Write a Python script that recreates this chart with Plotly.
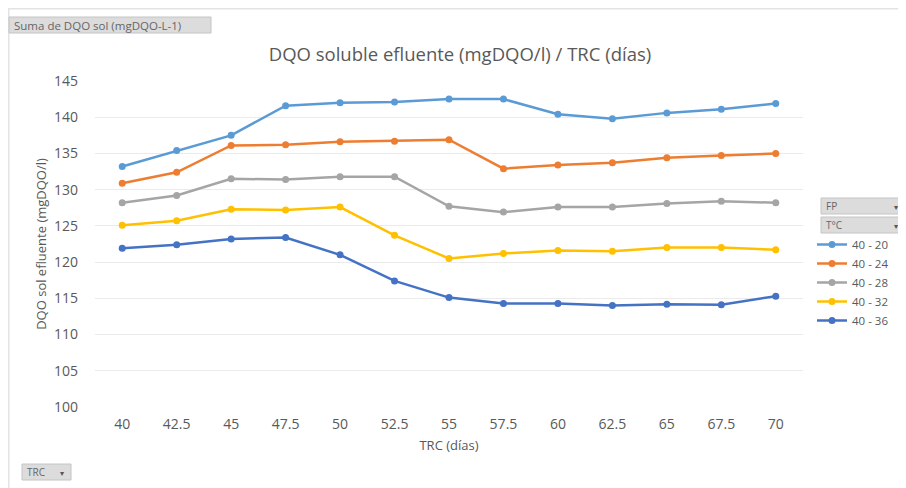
import plotly.graph_objects as go

trc = ["40", "42.5", "45", "47.5", "50", "52.5", "55", "57.5", "60", "62.5", "65", "67.5", "70"]
s_40_20 = [133.2, 135.4, 137.5, 141.6, 142.0, 142.1, 142.5, 142.5, 140.4, 139.8, 140.6, 141.1, 141.9]
s_40_24 = [130.9, 132.4, 136.1, 136.2, 136.6, 136.7, 136.9, 132.9, 133.4, 133.7, 134.4, 134.7, 135.0]
s_40_28 = [128.2, 129.2, 131.5, 131.4, 131.8, 131.8, 127.7, 126.9, 127.6, 127.6, 128.1, 128.4, 128.2]
s_40_32 = [125.1, 125.7, 127.3, 127.2, 127.6, 123.7, 120.5, 121.2, 121.6, 121.5, 122.0, 122.0, 121.7]
s_40_36 = [121.9, 122.4, 123.2, 123.4, 121.0, 117.4, 115.1, 114.3, 114.3, 114.0, 114.2, 114.1, 115.3]
series_names = ["40 - 20", "40 - 24", "40 - 28", "40 - 32", "40 - 36"]
series_vals = [s_40_20, s_40_24, s_40_28, s_40_32, s_40_36]
colors = ["#5B9BD5", "#ED7D31", "#A5A5A5", "#FFC000", "#4472C4"]
y_ticks = [100, 105, 110, 115, 120, 125, 130, 135, 140, 145]

# page body has an 8px margin, so figure coordinates = screen coordinates - 8
OFF = 8
W, H = 906 - OFF, 488 - OFF
L, R, T, B = 95 - OFF, 803 - OFF, 81 - OFF, 407 - OFF

def xp(px):
    return (px - OFF - L) / (R - L)

def yp(py):
    return (B - (py - OFF)) / (B - T)

fig = go.Figure()
for name, vals, c in zip(series_names, series_vals, colors):
    fig.add_trace(go.Scatter(
        x=trc, y=vals, name=name, mode="lines+markers",
        line=dict(color=c, width=2.5),
        marker=dict(color=c, size=7),
    ))

font_color = "#595959"
fig.update_layout(
    width=W, height=H,
    margin=dict(l=L, r=W - R, t=T, b=H - B, autoexpand=False),
    paper_bgcolor="white", plot_bgcolor="white",
    font=dict(family="Open Sans", color=font_color, size=13),
    title=dict(text="DQO soluble efluente (mgDQO/l) / TRC (días)",
               xref="paper", x=xp(460), xanchor="center",
               y=1 - (55 - OFF) / H, yanchor="middle",
               font=dict(size=18.5, color=font_color)),
    xaxis=dict(type="category", range=[-0.5, len(trc) - 0.5], showgrid=False,
               zeroline=False, showline=False, ticks="",
               tickfont=dict(size=14, color=font_color), ticklabelstandoff=7,
               title=dict(text="TRC (días)", font=dict(size=13, color=font_color), standoff=8)),
    yaxis=dict(range=[100, 145], tickvals=y_ticks, showgrid=True, gridcolor="#EBEBEB",
               gridwidth=1, zeroline=False, showline=False, ticks="",
               tickfont=dict(size=14, color=font_color), ticklabelstandoff=16,
               title=dict(text="DQO sol efluente (mgDQO/l)", font=dict(size=13, color=font_color), standoff=4)),
    legend=dict(x=xp(812), xanchor="left", y=yp(230), yanchor="top",
                font=dict(size=11.5, color=font_color), bgcolor="rgba(0,0,0,0)",
                itemwidth=30, tracegroupgap=0),
    showlegend=True,
)

shapes = []
# frame lines
shapes.append(dict(type="line", xref="paper", yref="paper", x0=xp(8), x1=xp(906), y0=yp(8.5), y1=yp(8.5),
                   line=dict(color="#E3E3E3", width=2)))
shapes.append(dict(type="line", xref="paper", yref="paper", x0=xp(8.5), x1=xp(8.5), y0=yp(8), y1=yp(488),
                   line=dict(color="#E3E3E3", width=2)))

def button(x0, y0, x1, y1, text, size, arrow=None):
    shapes.append(dict(type="rect", xref="paper", yref="paper",
                       x0=xp(x0), x1=xp(x1), y0=yp(y0), y1=yp(y1),
                       fillcolor="#DCDCDC", line=dict(color="#C4C4C4", width=1)))
    fig.add_annotation(x=xp(x0 + 3), y=yp((y0 + y1) / 2), xref="paper", yref="paper",
                       text=text, showarrow=False, xanchor="left", yanchor="middle",
                       font=dict(size=size, color="#666666"))
    if arrow:
        fig.add_annotation(x=xp(x1 - 5), y=yp((y0 + y1) / 2), xref="paper", yref="paper",
                           text=arrow, showarrow=False, xanchor="right", yanchor="middle",
                           font=dict(size=8, color="#555555"))

button(9, 17, 211, 33, "Suma de DQO sol (mgDQO-L-1)", 11.5)
button(821, 198, 905, 214, "FP", 10, "▾")
button(821, 217, 905, 233, "T°C", 10, "▾")
button(22, 464, 71, 480, "TRC", 10, "▾")

fig.update_layout(shapes=shapes)
fig.write_html("out.html")
